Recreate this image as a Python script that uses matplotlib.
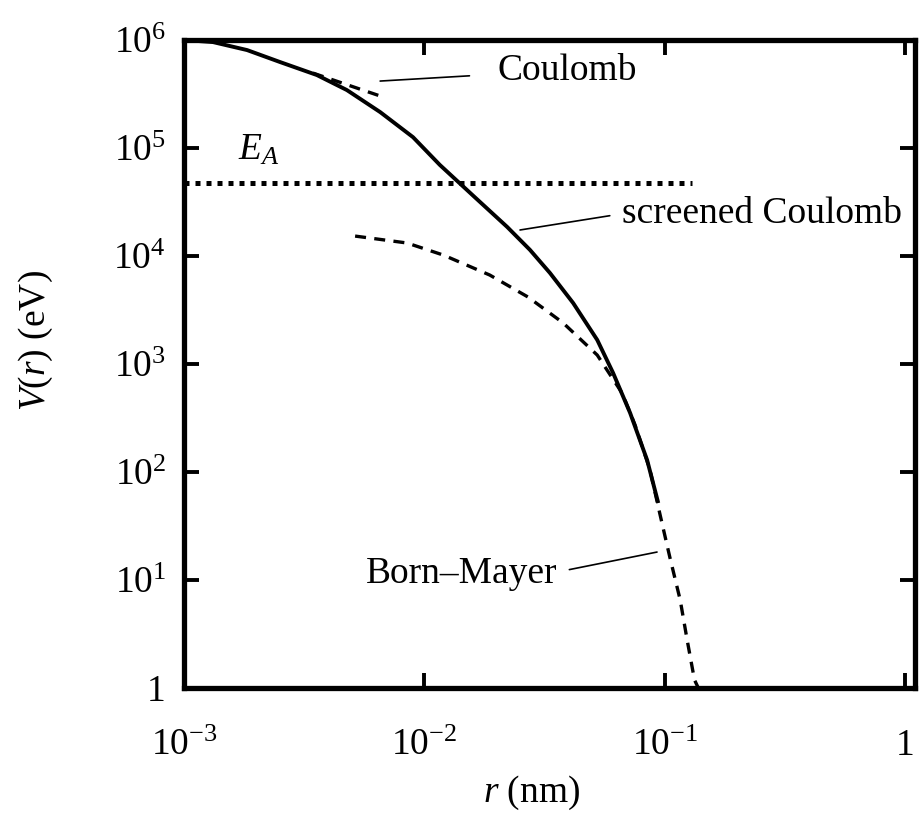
import numpy as np
import matplotlib
matplotlib.use("Agg")
import matplotlib.pyplot as plt

plt.rcParams['font.family'] = ['Liberation Serif', 'DejaVu Serif']
plt.rcParams['mathtext.fontset'] = 'custom'
plt.rcParams['mathtext.rm'] = 'Liberation Serif'
plt.rcParams['mathtext.it'] = 'Liberation Serif:italic'

# values, r in nm, V in eV
screened_r = [1.00e-3, 1.32e-3, 1.83e-3, 2.51e-3, 3.57e-3, 4.76e-3, 6.55e-3,
              8.97e-3, 1.16e-2, 1.60e-2, 2.21e-2, 2.75e-2, 3.33e-2, 4.16e-2,
              5.24e-2, 6.10e-2, 7.18e-2, 8.45e-2, 9.40e-2]
screened_v = [1.00e6, 9.57e5, 8.07e5, 6.25e5, 4.74e5, 3.44e5, 2.15e5,
              1.26e5, 6.97e4, 3.60e4, 1.86e4, 1.14e4, 6.97e3, 3.67e3,
              1.67e3, 8.26e2, 3.52e2, 1.29e2, 5.16e1]

coulomb_r = [3.44e-3, 4.81e-3, 6.73e-3]
coulomb_v = [4.94e5, 3.83e5, 2.97e5]

born_r = [5.15e-3, 8.47e-3, 1.20e-2, 1.87e-2, 2.70e-2, 3.78e-2, 5.24e-2,
          6.65e-2, 7.53e-2, 8.69e-2, 9.57e-2, 1.05e-1, 1.16e-1, 1.24e-1,
          1.33e-1, 1.38e-1]
born_v = [1.53e4, 1.32e4, 1.02e4, 6.67e3, 4.17e3, 2.40e3, 1.21e3,
          5.38e2, 2.72e2, 1.04e2, 4.00e1, 1.63e1, 6.53, 2.78, 1.19, 1.0]

e_a = 4.74e4
e_a_r = [1.0e-3, 1.30e-1]

xticks = [1e-3, 1e-2, 1e-1, 1]
xticklabels = ['$10^{-3}$', '$10^{-2}$', '$10^{-1}$', '1']
yticks = [1, 1e1, 1e2, 1e3, 1e4, 1e5, 1e6]
yticklabels = ['1', '$10^1$', '$10^2$', '$10^3$', '$10^4$', '$10^5$', '$10^6$']

fig = plt.figure(figsize=(9.21, 8.15), dpi=100)
ax = fig.add_axes([0.1998, 0.1558, 0.7937, 0.7951])
ax.set_xscale('log')
ax.set_yscale('log')

ax.plot(screened_r, screened_v, color='k', lw=2.8, solid_capstyle='butt')
ax.plot(coulomb_r, coulomb_v, color='k', lw=2.4, dashes=(3.3, 2.5))
ax.plot(born_r, born_v, color='k', lw=2.4, dashes=(3.3, 2.5))
ax.plot(e_a_r, [e_a, e_a], color='k', lw=3.6, dashes=(1.0, 1.2))

ax.set_xlim(1e-3, 1.1)
ax.set_ylim(1, 1e6)
ax.set_xticks(xticks)
ax.set_xticklabels(xticklabels)
ax.set_yticks(yticks)
ax.set_yticklabels(yticklabels)
ax.minorticks_off()
ax.tick_params(which='major', direction='in', length=11, width=2.8,
               top=True, right=True, labelsize=27)
ax.tick_params(axis='x', pad=29)
ax.tick_params(axis='y', pad=13)
for s in ax.spines.values():
    s.set_linewidth(3.8)

ax.set_xlabel('$r$ (nm)', fontsize=27, va='center')
ax.xaxis.set_label_coords(0.475, -0.162)
ax.set_ylabel('$V$($r$) (eV)', fontsize=27, va='center')
ax.yaxis.set_label_coords(-0.2025, 0.537)

leader = dict(arrowstyle='-', lw=1.2, color='k')
ax.annotate('Coulomb', xy=(10**-2.184, 10**5.620), xytext=(10**-1.697, 10**5.630),
            fontsize=27, ha='left', va='baseline',
            arrowprops=dict(leader, relpos=(0, 0.4), shrinkA=18, shrinkB=0))
ax.annotate('screened Coulomb', xy=(10**-1.602, 10**4.241),
            xytext=(10**-1.177, 10**4.306), fontsize=27, ha='left', va='baseline',
            arrowprops=dict(leader, relpos=(0, 0.5), shrinkA=7, shrinkB=0))
ax.annotate('Born\u2013Mayer', xy=(10**-1.032, 10**1.259),
            xytext=(10**-1.448, 10**0.972), fontsize=27, ha='right', va='baseline',
            arrowprops=dict(leader, relpos=(1, 0.55), shrinkA=7, shrinkB=0))
ax.text(10**-2.775, 10**4.889, '$E_A$', fontsize=27, ha='left', va='baseline')

fig.savefig('out.png', dpi=100)
